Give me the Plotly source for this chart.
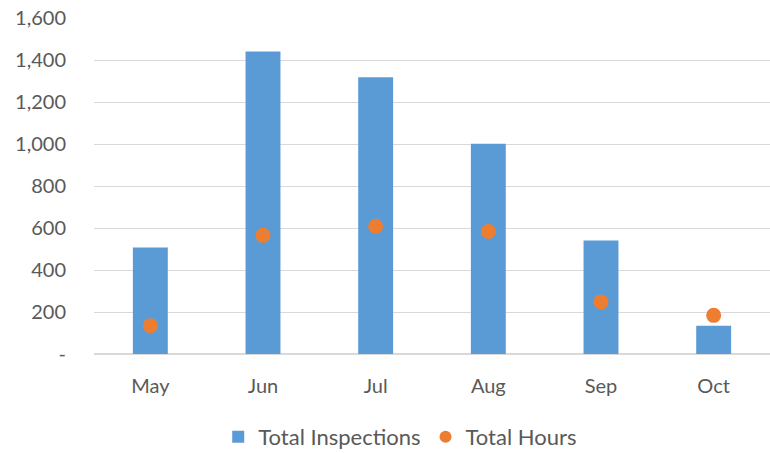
import plotly.graph_objects as go

months = ["May", "Jun", "Jul", "Aug", "Sep", "Oct"]
inspections = [507, 1441, 1318, 1001, 541, 135]
hours = [135, 565, 608, 583, 248, 184]
y_ticks = [0, 200, 400, 600, 800, 1000, 1200, 1400, 1600]
y_tick_labels = ["-", "200", "400", "600", "800", "1,000", "1,200", "1,400", "1,600"]

font_family = "Lato, 'Open Sans', sans-serif"
text_color = "#595959"

fig = go.Figure()
fig.add_trace(go.Bar(
    x=months, y=inspections, name="Total Inspections",
    marker=dict(color="#5B9BD5", line=dict(width=0)),
    width=0.31,
))
fig.add_trace(go.Scatter(
    x=months, y=hours, name="Total Hours", mode="markers",
    marker=dict(color="#ED7D31", size=15, line=dict(width=0)),
))

fig.update_layout(
    width=770, height=453,
    margin=dict(l=94, r=0, t=18, b=99, autoexpand=False),
    paper_bgcolor="white", plot_bgcolor="white",
    font=dict(family=font_family, size=20, color=text_color),
    showlegend=True,
    legend=dict(orientation="h", x=0.453, xanchor="center", y=-0.247, yanchor="middle",
                font=dict(size=22, color=text_color), itemsizing="constant",
                traceorder="normal"),
    xaxis=dict(showgrid=False, showline=False, ticks="", tickfont=dict(size=20, color=text_color),
               range=[-0.5, 5.5], ticklabelstandoff=18, automargin=False),
    yaxis=dict(range=[0, 1600], tickvals=y_ticks, ticktext=y_tick_labels,
               showgrid=True, gridcolor="#D9D9D9", gridwidth=1.3,
               zeroline=True, zerolinecolor="#D9D9D9", zerolinewidth=1.5,
               showline=False, ticks="", ticklabelstandoff=27, automargin=False,
               tickfont=dict(size=20, color=text_color)),
)

fig.write_html(
    "out.html",
    config={"displayModeBar": False},
    post_script="document.body.style.margin='0';document.body.style.overflow='hidden';",
)
